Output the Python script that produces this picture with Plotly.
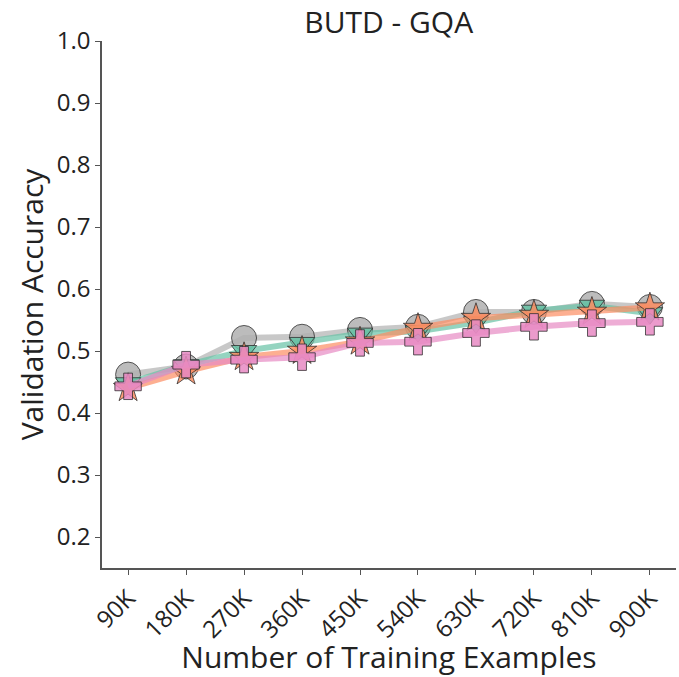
import plotly.graph_objects as go

# Training-set sizes (x categories)
sizes = ["90K", "180K", "270K", "360K", "450K", "540K", "630K", "720K", "810K", "900K"]

# Validation accuracy per run
acc_gray = [0.462, 0.475, 0.521, 0.523, 0.534, 0.539, 0.563, 0.563, 0.576, 0.571]
acc_teal = [0.448, 0.477, 0.500, 0.513, 0.528, 0.532, 0.546, 0.565, 0.573, 0.561]
acc_orange = [0.440, 0.467, 0.490, 0.500, 0.515, 0.537, 0.553, 0.558, 0.563, 0.570]
acc_pink = [0.443, 0.478, 0.486, 0.490, 0.513, 0.515, 0.529, 0.539, 0.545, 0.547]

y_ticks = [0.2, 0.3, 0.4, 0.5, 0.6, 0.7, 0.8, 0.9, 1.0]

FONT = "'Open Sans', Lato, sans-serif"
TXT = "#222222"

series = [
    (acc_gray, "#b0b0b0", "circle", 25),
    (acc_teal, "#66c2a5", "triangle-down", 22),
    (acc_orange, "#fc8d62", "star", 22),
    (acc_pink, "#e78ac3", "cross", 22),
]


def rgba(hex_color, a):
    h = hex_color.lstrip("#")
    r, g, b = int(h[0:2], 16), int(h[2:4], 16), int(h[4:6], 16)
    return f"rgba({r},{g},{b},{a})"


x_idx = list(range(len(sizes)))
fig = go.Figure()
for vals, col, sym, sz in series:
    fig.add_trace(go.Scatter(
        x=x_idx, y=vals, mode="lines",
        line=dict(color=rgba(col, 0.7), width=6),
        showlegend=False, hoverinfo="skip",
    ))
    fig.add_trace(go.Scatter(
        x=x_idx, y=vals, mode="markers",
        marker=dict(symbol=sym, size=sz, color=rgba(col, 0.85),
                    line=dict(color="rgba(40,40,40,0.75)", width=1)),
        showlegend=False,
    ))

fig.update_layout(
    width=679, height=677,
    margin=dict(l=102, r=3, t=41, b=109),
    paper_bgcolor="white", plot_bgcolor="white",
    font=dict(family=FONT, color=TXT, size=22),
    title=dict(text="BUTD - GQA", x=0.5725, xanchor="center", y=0.967, yanchor="middle",
               font=dict(size=30, family=FONT, color=TXT)),
)
fig.update_xaxes(
    range=[-0.45, 9.45], tickmode="array", tickvals=x_idx, ticktext=sizes,
    tickangle=-45, showgrid=False, zeroline=False,
    showline=True, linecolor="#555555", linewidth=1.5,
    ticks="outside", ticklen=5, tickcolor="#555555",
    tickfont=dict(size=24, family=FONT, color=TXT),
    title=dict(text="Number of Training Examples", font=dict(size=30, family=FONT, color=TXT),
               standoff=0),
)
fig.update_yaxes(
    range=[0.15, 1.0], tickmode="array", tickvals=y_ticks,
    ticktext=[f"{v:.1f}" for v in y_ticks],
    showgrid=False, zeroline=False,
    showline=True, linecolor="#555555", linewidth=1.5,
    ticks="outside", ticklen=5, tickcolor="#555555",
    tickfont=dict(size=24, family=FONT, color=TXT),
    title=dict(text="Validation Accuracy", font=dict(size=30, family=FONT, color=TXT),
               standoff=4),
)

fig.write_html("out.html")
